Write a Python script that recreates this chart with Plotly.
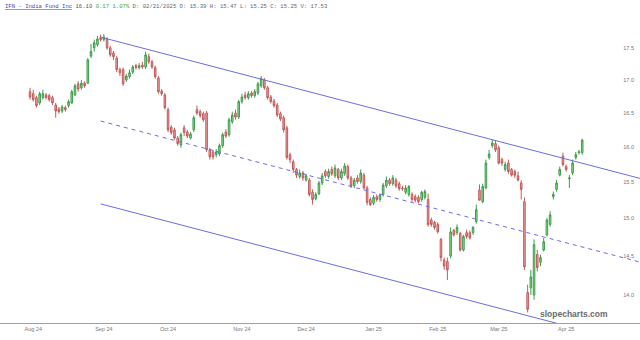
import pandas as pd
import numpy as np
import plotly.graph_objects as go

# ---------------- data ----------------
holidays = ["2024-09-02", "2024-11-28", "2024-12-25", "2025-01-01",
            "2025-01-09", "2025-01-20", "2025-02-17"]

opens = [16.82,16.79,16.73,16.65,16.73,16.77,16.76,16.73,16.62,16.56,
         16.53,16.58,16.61,16.65,16.77,16.94,16.88,16.95,16.95,17.37,
         17.50,17.55,17.66,17.63,17.64,17.50,17.42,17.34,17.16,17.16,
         17.00,17.05,17.12,17.22,17.19,17.23,17.20,17.36,17.28,17.19,
         17.03,16.83,16.77,16.55,16.29,16.25,16.13,16.03,16.28,16.22,
         16.13,16.25,16.55,16.52,16.49,16.50,15.96,15.93,15.89,15.90,
         16.02,16.22,16.18,16.37,16.50,16.44,16.67,16.77,16.73,16.80,
         16.76,16.80,16.91,17.00,16.88,16.74,16.68,16.62,16.49,16.43,
         16.28,15.89,15.79,15.68,15.58,15.63,15.53,15.53,15.36,15.27,
         15.34,15.49,15.65,15.58,15.68,15.59,15.68,15.56,15.62,15.72,
         15.56,15.45,15.56,15.51,15.60,15.42,15.26,15.21,15.30,15.26,
         15.33,15.45,15.53,15.48,15.53,15.48,15.42,15.36,15.33,15.33,
         15.30,15.29,15.26,15.29,15.26,14.98,14.95,14.92,14.72,14.45,
         14.43,14.50,14.84,14.81,14.80,14.58,14.81,14.81,14.81,14.96,
         15.39,15.23,15.42,15.85,16.02,16.05,15.99,15.82,15.68,15.77,
         15.68,15.65,15.59,15.49,15.23,14.03,14.09,14.00,14.52,14.42,
         14.58,14.78,14.92,15.30,15.40,15.60,15.87,15.72,15.55,15.63,
         15.85,15.92,15.92]
highs = [16.88,16.85,16.76,16.82,16.85,16.80,16.79,16.76,16.65,16.59,
         16.62,16.61,16.70,16.85,16.94,16.98,17.00,16.98,17.34,17.56,
         17.63,17.69,17.71,17.72,17.67,17.53,17.45,17.37,17.19,17.19,
         17.09,17.16,17.23,17.25,17.26,17.28,17.44,17.41,17.31,17.22,
         17.06,16.86,16.80,16.58,16.32,16.28,16.16,16.21,16.32,16.25,
         16.22,16.46,16.61,16.55,16.52,16.53,15.99,15.96,15.97,16.05,
         16.21,16.26,16.43,16.52,16.55,16.70,16.79,16.82,16.83,16.83,
         16.86,16.97,17.06,17.03,16.91,16.77,16.71,16.65,16.52,16.46,
         16.31,15.92,15.82,15.70,15.68,15.66,15.62,15.56,15.40,15.36,
         15.52,15.63,15.68,15.69,15.72,15.75,15.70,15.69,15.77,15.75,
         15.59,15.56,15.60,15.68,15.63,15.45,15.29,15.32,15.33,15.34,
         15.49,15.58,15.56,15.60,15.56,15.51,15.45,15.46,15.46,15.36,
         15.33,15.32,15.38,15.40,15.34,15.01,14.97,14.95,14.74,14.48,
         14.48,14.88,14.86,14.92,14.82,14.78,14.85,14.84,14.90,15.19,
         15.47,15.48,15.82,15.96,16.11,16.09,16.02,15.85,15.79,15.82,
         15.70,15.68,15.65,15.53,15.29,14.13,14.32,14.72,14.58,14.52,
         14.74,15.01,15.10,15.37,15.53,15.72,15.92,15.75,15.60,15.82,
         15.93,15.96,16.12]
lows = [16.70,16.67,16.58,16.62,16.70,16.70,16.67,16.62,16.43,16.49,
        16.50,16.52,16.58,16.64,16.76,16.82,16.85,16.88,16.94,17.34,
        17.44,17.52,17.60,17.60,17.47,17.36,17.31,17.12,17.06,16.91,
        16.97,17.02,17.09,17.16,17.16,17.17,17.17,17.25,17.17,17.02,
        16.79,16.76,16.55,16.22,16.18,16.11,16.02,15.99,16.16,16.13,
        16.11,16.22,16.47,16.43,16.37,15.93,15.82,15.82,15.85,15.87,
        15.99,16.13,16.15,16.34,16.40,16.41,16.64,16.70,16.70,16.73,
        16.73,16.77,16.88,16.85,16.70,16.64,16.58,16.44,16.38,16.21,
        15.82,15.77,15.63,15.56,15.55,15.52,15.51,15.30,15.19,15.25,
        15.32,15.46,15.56,15.55,15.59,15.56,15.53,15.53,15.59,15.53,
        15.42,15.42,15.48,15.48,15.40,15.18,15.17,15.18,15.23,15.23,
        15.30,15.42,15.45,15.45,15.42,15.38,15.38,15.33,15.30,15.23,
        15.22,15.21,15.23,15.26,14.89,14.89,14.85,14.80,14.43,14.32,
        14.19,14.47,14.76,14.78,14.56,14.56,14.73,14.72,14.78,14.93,
        15.25,15.21,15.40,15.82,15.99,15.93,15.75,15.73,15.65,15.62,
        15.58,15.56,15.51,15.26,14.32,13.78,14.00,13.94,14.30,14.37,
        14.56,14.76,14.89,15.26,15.37,15.58,15.72,15.65,15.42,15.60,
        15.82,15.89,15.89]
closes = [16.74,16.70,16.61,16.79,16.79,16.73,16.70,16.65,16.53,16.52,
          16.59,16.55,16.67,16.82,16.91,16.86,16.95,16.91,17.31,17.44,
          17.58,17.64,17.63,17.67,17.50,17.39,17.36,17.16,17.11,16.94,
          17.06,17.11,17.20,17.19,17.22,17.20,17.39,17.28,17.20,17.05,
          16.82,16.79,16.58,16.25,16.21,16.13,16.05,16.18,16.21,16.16,
          16.19,16.43,16.50,16.46,16.40,15.96,15.86,15.86,15.93,16.02,
          16.18,16.16,16.40,16.47,16.44,16.67,16.74,16.73,16.79,16.76,
          16.82,16.94,17.02,16.88,16.73,16.67,16.61,16.47,16.41,16.25,
          15.85,15.82,15.68,15.60,15.63,15.56,15.59,15.33,15.26,15.33,
          15.49,15.59,15.59,15.65,15.62,15.70,15.56,15.65,15.73,15.56,
          15.45,15.53,15.51,15.63,15.42,15.22,15.19,15.29,15.26,15.32,
          15.46,15.53,15.48,15.56,15.45,15.41,15.41,15.42,15.44,15.26,
          15.25,15.23,15.36,15.37,14.92,14.92,14.88,14.82,14.48,14.37,
          14.32,14.82,14.78,14.88,14.58,14.76,14.76,14.74,14.88,15.12,
          15.25,15.44,15.77,15.90,16.06,15.96,15.77,15.77,15.75,15.65,
          15.60,15.60,15.53,15.40,14.36,13.82,14.23,14.65,14.35,14.48,
          14.69,14.98,15.05,15.33,15.49,15.68,15.75,15.68,15.56,15.77,
          15.89,15.93,16.10]

# regression channel (bar number, price)
channel_bars = [22, 192]
upper_channel = [17.67, 15.53]
middle_channel = [16.38, 14.40]
lower_channel = [15.20, 13.36]

y_ticks = [14.0, 14.5, 15.0, 15.5, 16.0, 16.5, 17.0, 17.5]

header_name = "IFN - India Fund Inc"
header_last = "16.10"
header_chg = "0.17"
header_pct = "1.07%"
header_bar = "D: 02/21/2025 O: 15.39 H: 15.47 L: 15.25 C: 15.25 V: 17.53"

# ---------------- build ----------------
n = len(closes)
dates = pd.bdate_range("2024-07-31", periods=n + 10, freq="C", holidays=holidays)[:n]
bars = np.arange(n)
month = dates.to_period("M")
first_of_month = [i for i in range(1, n) if month[i] != month[i - 1]]
tick_text = [dates[i].strftime("%b %y") for i in first_of_month]

fig = go.Figure()
fig.add_trace(go.Candlestick(
    x=bars, open=opens, high=highs, low=lows, close=closes,
    increasing=dict(fillcolor="#8fe38f", line=dict(color="#3f9a4f", width=1)),
    decreasing=dict(fillcolor="#f2a3a3", line=dict(color="#c15b5b", width=1)),
    whiskerwidth=0, showlegend=False, hoverinfo="skip"))

line_col = "#6c6ce0"
fig.add_trace(go.Scatter(x=channel_bars, y=upper_channel, mode="lines",
                         line=dict(color=line_col, width=1), showlegend=False, hoverinfo="skip"))
fig.add_trace(go.Scatter(x=channel_bars, y=middle_channel, mode="lines",
                         line=dict(color=line_col, width=1, dash="4px,4px"), showlegend=False, hoverinfo="skip"))
fig.add_trace(go.Scatter(x=channel_bars, y=lower_channel, mode="lines",
                         line=dict(color=line_col, width=1), showlegend=False, hoverinfo="skip"))

y_lo, y_hi = 13.65, 18.01
fig.update_layout(
    width=640, height=340,
    margin=dict(l=0, r=0, t=16, b=17),
    paper_bgcolor="white", plot_bgcolor="white",
    xaxis=dict(range=[-9.35, 190], showgrid=False, zeroline=False,
               rangeslider=dict(visible=False),
               tickmode="array", tickvals=first_of_month, ticktext=tick_text,
               tickfont=dict(size=5.5, color="#777", family="Liberation Sans"),
               showline=True, linecolor="#a0a0a0", linewidth=1, ticks="", ticklen=0),
    yaxis=dict(type="log", range=[np.log10(y_lo), np.log10(y_hi)],
               side="right", ticklabelposition="inside", ticklabelstandoff=3,
               tickmode="array", tickvals=y_ticks, tickformat=".1f",
               tickfont=dict(size=5.5, color="#777", family="Liberation Sans"),
               showgrid=False, zeroline=False, showline=False, ticks=""),
)

hdr = (f"<span style='color:#3b46b0'><u>{header_name}</u></span> "
       f"<span style='color:#555'>{header_last}</span> "
       f"<span style='color:#3aa53a'>{header_chg}</span> "
       f"<span style='color:#3aa53a'>{header_pct}</span> "
       f"<span style='color:#666'>{header_bar}</span>")
fig.add_annotation(text=hdr, xref="paper", yref="paper", x=0, y=1,
                   xanchor="left", yanchor="bottom", yshift=4, xshift=3, showarrow=False,
                   font=dict(family="Liberation Mono", size=5.6, color="#666"))
fig.add_annotation(text="<b>slopecharts.com</b>", xref="paper", yref="paper",
                   x=1, y=0, xanchor="right", yanchor="bottom", xshift=-30, yshift=2,
                   showarrow=False, font=dict(family="Liberation Sans", size=8.5, color="#6a6a6a"))

fig.write_html("out.html")
